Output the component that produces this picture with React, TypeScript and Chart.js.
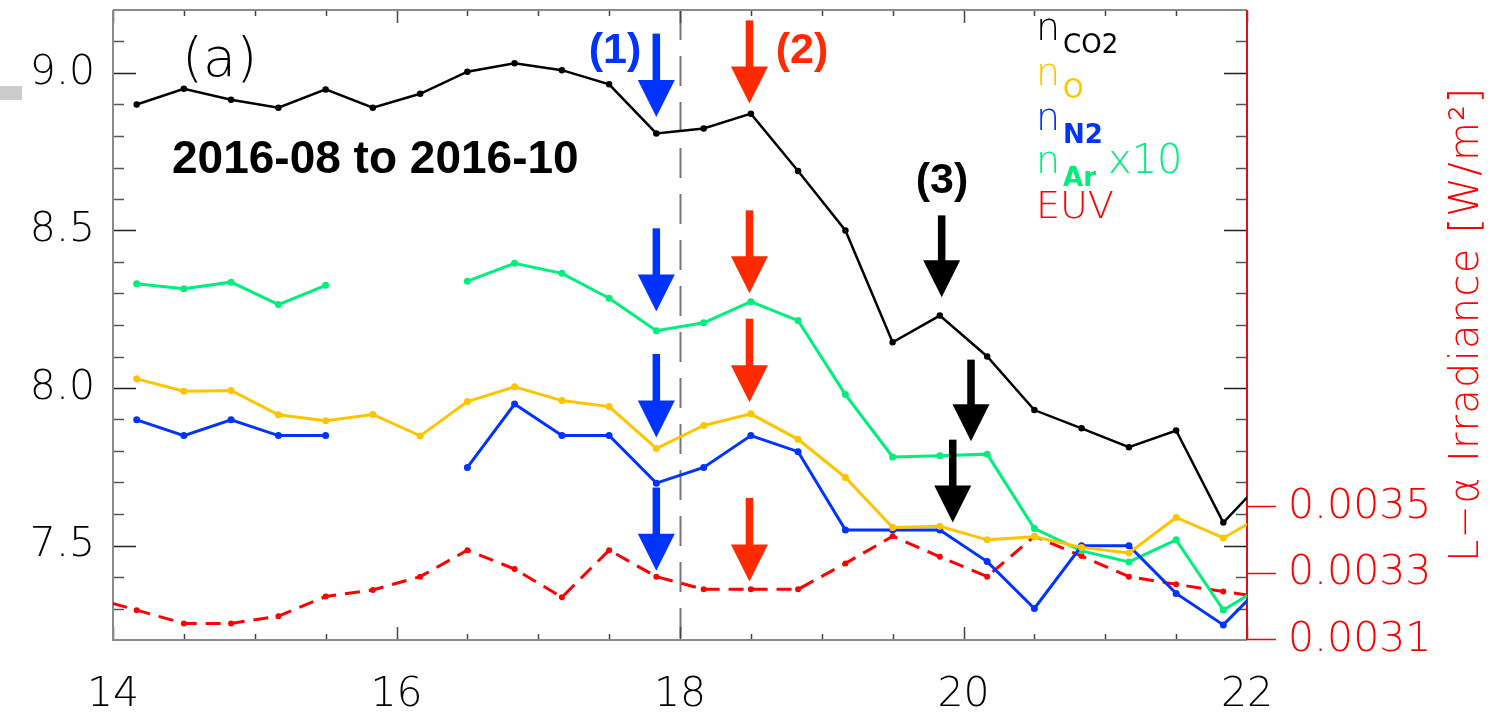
import React, { useEffect, useRef } from "react";
import { Chart, registerables } from "chart.js";

Chart.register(...registerables);

// ---------- data ----------
const xValues = [13.833, 14.167, 14.5, 14.833, 15.167, 15.5, 15.833, 16.167, 16.5, 16.833, 17.167, 17.5, 17.833, 18.167, 18.5, 18.833, 19.167, 19.5, 19.833, 20.167, 20.5, 20.833, 21.167, 21.5, 21.833, 22.167];
const nCO2 = [null, 8.9, 8.95, 8.915, 8.89, 8.948, 8.89, 8.934, 9.004, 9.031, 9.009, 8.964, 8.808, 8.824, 8.871, 8.689, 8.5, 8.145, 8.23, 8.1, 7.93, 7.872, 7.812, 7.865, 7.573, 7.732];
const nO = [null, 8.029, 7.99, 7.992, 7.915, 7.896, 7.916, 7.848, 7.957, 8.004, 7.96, 7.941, 7.808, 7.881, 7.918, 7.837, 7.716, 7.557, 7.561, 7.518, 7.528, 7.494, 7.476, 7.589, 7.524, 7.61];
const nN2 = [null, 7.899, 7.849, 7.899, 7.849, 7.849, null, null, 7.748, 7.949, 7.849, 7.849, 7.698, 7.748, 7.849, 7.798, 7.549, 7.549, 7.549, 7.449, 7.3, 7.499, 7.499, 7.348, 7.248, 7.4];
const nArX10 = [null, 8.331, 8.315, 8.336, 8.265, 8.326, null, null, 8.339, 8.396, 8.364, 8.285, 8.182, 8.207, 8.274, 8.214, 7.979, 7.781, 7.785, 7.79, 7.554, 7.483, 7.448, 7.518, 7.295, 7.386];
const euv = [0.00323, 0.00319, 0.00315, 0.00315, 0.003172, 0.003231, 0.003251, 0.003291, 0.003371, 0.003314, 0.003229, 0.003371, 0.003291, 0.003253, 0.003253, 0.003253, 0.003331, 0.003413, 0.003351, 0.003291, 0.003413, 0.003353, 0.003291, 0.003268, 0.003246, 0.003226];

const xTicks = [14, 16, 18, 20, 22];
const yTicks = [7.5, 8.0, 8.5, 9.0];
const euvTicks = [0.0031, 0.0033, 0.0035];

// arrows (x, shaft top, tip) in data units of the left axis
const arrowX = [17.833, 18.49, 17.833, 18.49, 17.833, 18.49, 17.833, 18.49, 19.846, 20.053, 19.924];
const arrowTop = [9.125, 9.167, 8.507, 8.564, 8.108, 8.22, 7.684, 7.651, 8.548, 8.09, 7.836];
const arrowTip = [8.86, 8.903, 8.243, 8.301, 7.843, 7.955, 7.42, 7.386, 8.288, 7.831, 7.573];
const arrowColor = ["#0033ff", "#ff2a00", "#0033ff", "#ff2a00", "#0033ff", "#ff2a00", "#0033ff", "#ff2a00", "#000000", "#000000", "#000000"];

const markLabels = ["(1)", "(2)", "(3)"];
const legendNames = ["n", "n", "n", "n", "EUV"];
const legendSubs = ["CO2", "O", "N2", "Ar", ""];
const legendExtra = ["", "", "", "x10", ""];

const C_BLACK = "#000000";
const C_YEL = "#ffc400";
const C_BLUE = "#0033ff";
const C_GREEN = "#00ef7c";
const C_RED = "#ff0000";
const legendColors = [C_BLACK, C_YEL, C_BLUE, C_GREEN, C_RED];

const FONT = "'DejaVu Sans', sans-serif";
const BOLD = "'Liberation Sans', Arial, sans-serif";

const pts = (ys: (number | null)[]) => xValues.map((x, i) => ({ x, y: ys[i] }));

const overlay = {
  id: "overlay",
  beforeDraw(chart: any) {
    const { ctx } = chart;
    ctx.save();
    ctx.fillStyle = "#ffffff";
    ctx.fillRect(0, 0, chart.width, chart.height);
    ctx.restore();
  },
  beforeDatasetsDraw(chart: any) {
    const { ctx, chartArea: a, scales } = chart;
    const xs = scales.x, ys = scales.y, yr = scales.yEuv;
    ctx.save();
    // vertical dashed line at 18
    ctx.strokeStyle = "#777777";
    ctx.lineWidth = 2;
    ctx.setLineDash([30, 16]);
    const x18 = Math.round(xs.getPixelForValue(18)) + 0.5;
    ctx.beginPath();
    ctx.moveTo(x18, a.top);
    ctx.lineTo(x18, a.bottom);
    ctx.stroke();
    ctx.setLineDash([]);

    // x ticks (top and bottom)
    ctx.strokeStyle = "#444444";
    ctx.lineWidth = 1.5;
    for (let v = 14; v <= 22.001; v += 0.5) {
      const px = Math.round(xs.getPixelForValue(v)) + 0.5;
      const major = Math.abs(v / 2 - Math.round(v / 2)) < 1e-6;
      const len = major ? 13 : 6;
      ctx.beginPath();
      ctx.moveTo(px, a.bottom);
      ctx.lineTo(px, a.bottom - len);
      ctx.moveTo(px, a.top);
      ctx.lineTo(px, a.top + len);
      ctx.stroke();
    }
    // y ticks left and right (inward)
    for (let k = 73; k <= 91; k++) {
      const v = k / 10;
      const py = Math.round(ys.getPixelForValue(v)) + 0.5;
      const major = k % 5 === 0;
      const len = major ? 23 : 11;
      ctx.strokeStyle = major ? "#222222" : "#555555";
      ctx.beginPath();
      ctx.moveTo(a.left, py);
      ctx.lineTo(a.left + len, py);
      ctx.moveTo(a.right, py);
      ctx.lineTo(a.right - len, py);
      ctx.stroke();
    }
    // red outward ticks on right axis
    ctx.strokeStyle = C_RED;
    ctx.lineWidth = 1.5;
    for (const v of euvTicks) {
      const py = Math.round(yr.getPixelForValue(v)) - 0.5;
      ctx.beginPath();
      ctx.moveTo(a.right, py);
      ctx.lineTo(a.right + 29, py);
      ctx.stroke();
    }
    // frame
    ctx.lineWidth = 2;
    ctx.strokeStyle = "#8a8a8a";
    ctx.beginPath();
    ctx.moveTo(a.left, a.top);
    ctx.lineTo(a.right, a.top);
    ctx.moveTo(a.left, a.top);
    ctx.lineTo(a.left, a.bottom);
    ctx.lineTo(a.right, a.bottom);
    ctx.stroke();
    ctx.strokeStyle = "#e01010";
    ctx.beginPath();
    ctx.moveTo(a.right, a.top);
    ctx.lineTo(a.right, a.bottom);
    ctx.stroke();
    ctx.restore();
  },
  afterDatasetsDraw(chart: any) {
    const { ctx, scales } = chart;
    const xs = scales.x, ys = scales.y;
    ctx.save();
    // arrows
    const headH = 37, headW = 37, shaftW = 7.5;
    arrowX.forEach((xv, i) => {
      const x = xs.getPixelForValue(xv);
      const yTop = ys.getPixelForValue(arrowTop[i]);
      const yTip = ys.getPixelForValue(arrowTip[i]);
      ctx.fillStyle = arrowColor[i];
      ctx.fillRect(x - shaftW / 2, yTop, shaftW, yTip - headH - yTop + 1);
      ctx.beginPath();
      ctx.moveTo(x - headW / 2, yTip - headH);
      ctx.lineTo(x + headW / 2, yTip - headH);
      ctx.lineTo(x, yTip);
      ctx.closePath();
      ctx.fill();
    });

    // mark labels
    ctx.textAlign = "center";
    ctx.textBaseline = "alphabetic";
    ctx.font = `bold 43px ${BOLD}`;
    ctx.fillStyle = C_BLUE;
    ctx.fillText(markLabels[0], 615, 63);
    ctx.fillStyle = "#ff2a00";
    ctx.fillText(markLabels[1], 802, 63);
    ctx.fillStyle = C_BLACK;
    ctx.fillText(markLabels[2], 942, 193);

    // panel label and date range
    ctx.textAlign = "left";
    ctx.fillStyle = C_BLACK;
    ctx.font = `200 54px ${FONT}`;
    ctx.fillText("(a)", 182, 76);
    ctx.font = `bold 46px ${BOLD}`;
    ctx.fillText("2016-08 to 2016-10", 172, 173);

    // legend
    const baselines = [40, 85, 130, 173, 218];
    legendNames.forEach((name, i) => {
      ctx.fillStyle = legendColors[i];
      ctx.font = `200 38px ${FONT}`;
      const x0 = 1036;
      ctx.fillText(name, x0, baselines[i]);
      const w = ctx.measureText(name).width;
      if (legendSubs[i]) {
        const bold = i >= 2;
        ctx.font = `${bold ? "bold" : "normal"} 26px ${FONT}`;
        ctx.fillText(legendSubs[i], x0 + w + 3, baselines[i] + 13);
      }
      if (legendExtra[i]) {
        ctx.font = `200 40px ${FONT}`;
        ctx.fillText(legendExtra[i], 1108, baselines[i]);
      }
    });

    // right axis title
    ctx.save();
    ctx.translate(1478, 325);
    ctx.rotate(-Math.PI / 2);
    ctx.textAlign = "center";
    ctx.fillStyle = C_RED;
    ctx.font = `200 40px ${FONT}`;
    const title = "L\u2212\u03b1 Irradiance [W/m\u00b2]";
    const w0 = ctx.measureText(title).width;
    const sp = Math.max(0, (474 - w0) / (title.length - 1));
    (ctx as any).letterSpacing = `${sp.toFixed(2)}px`;
    ctx.fillText(title, sp / 2, 0);
    ctx.restore();

    // small gray mark at left edge
    ctx.fillStyle = "#cccccc";
    ctx.fillRect(0, 86, 22, 14);
    ctx.restore();
  },
};

const tickFont = { family: FONT, size: 41, weight: "200" as any };
const zeroYPad = (s: any, w: number) => { s.width = w; s.paddingTop = 0; s.paddingBottom = 0; };

export default function App() {
  const ref = useRef<HTMLCanvasElement>(null);
  useEffect(() => {
    const chart = new Chart(ref.current as HTMLCanvasElement, {
      type: "line",
      data: {
        datasets: [
          { label: "CO2", data: pts(nCO2), borderColor: C_BLACK, backgroundColor: C_BLACK, borderWidth: 2.5, pointRadius: 2, yAxisID: "y" },
          { label: "O", data: pts(nO), borderColor: C_YEL, backgroundColor: C_YEL, borderWidth: 3, pointRadius: 2, yAxisID: "y" },
          { label: "N2", data: pts(nN2), borderColor: C_BLUE, backgroundColor: C_BLUE, borderWidth: 3, pointRadius: 2, yAxisID: "y" },
          { label: "Ar x10", data: pts(nArX10), borderColor: C_GREEN, backgroundColor: C_GREEN, borderWidth: 3, pointRadius: 2, yAxisID: "y" },
          { label: "EUV", data: pts(euv), borderColor: C_RED, backgroundColor: C_RED, borderWidth: 3, borderDash: [15, 9], pointRadius: 1.5, yAxisID: "yEuv" },
        ] as any,
      },
      options: {
        animation: false,
        responsive: false,
        devicePixelRatio: 1,
        spanGaps: false,
        layout: { padding: { top: 10, left: 0, right: 0, bottom: 0 } },
        plugins: { legend: { display: false }, tooltip: { enabled: false } },
        elements: { line: { tension: 0 } },
        scales: {
          x: {
            type: "linear",
            min: 14,
            max: 22,
            grid: { display: false, drawTicks: false },
            border: { display: false },
            afterBuildTicks: (s: any) => { s.ticks = xTicks.map((v) => ({ value: v })); },
            afterFit: (s: any) => { s.height = 73; s.paddingLeft = 0; s.paddingRight = 0; },
            ticks: { font: tickFont, color: "#000", padding: 31, autoSkip: false, maxRotation: 0, callback: (v: any) => String(v) },
          },
          y: {
            type: "linear",
            position: "left",
            min: 7.2,
            max: 9.2,
            grid: { display: false, drawTicks: false },
            border: { display: false },
            afterBuildTicks: (s: any) => { s.ticks = yTicks.map((v) => ({ value: v })); },
            afterFit: (s: any) => zeroYPad(s, 113),
            ticks: { font: tickFont, color: "#000", padding: 18, callback: (v: any) => Number(v).toFixed(1) },
          },
          yEuv: {
            type: "linear",
            position: "right",
            min: 0.0031,
            max: 0.005,
            grid: { display: false, drawTicks: false },
            border: { display: false },
            afterBuildTicks: (s: any) => { s.ticks = euvTicks.map((v) => ({ value: v })); },
            afterFit: (s: any) => zeroYPad(s, 245),
            ticks: { font: tickFont, color: C_RED, padding: 41, callback: (v: any) => Number(v).toFixed(4) },
          },
        },
      } as any,
      plugins: [overlay],
    });
    return () => chart.destroy();
  }, []);
  return (
    <div style={{ position: "absolute", left: 0, top: 0, width: 1492, height: 713 }}>
      <canvas ref={ref} width={1492} height={713} style={{ width: 1492, height: 713, display: "block" }} />
    </div>
  );
}
